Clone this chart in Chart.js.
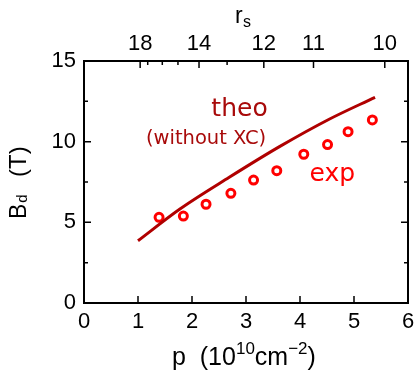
<!DOCTYPE html>
<html>
<head>
<meta charset="utf-8">
<script src="https://cdn.jsdelivr.net/npm/chart.js@4.4.0/dist/chart.umd.min.js"></script>
<style>
  html, body { margin: 0; padding: 0; background: #fff; }
  #wrap { width: 415px; height: 374px; }
</style>
</head>
<body>
<div id="wrap"><canvas id="chart" width="415" height="374"></canvas></div>
<script>
// theory curve (without XC)
const theoP = [1.00, 1.77, 2.69, 3.62, 4.54, 5.39];
const theoB = [3.86, 5.81, 7.79, 9.69, 11.39, 12.75];

// experimental points
const expP = [1.39, 1.84, 2.26, 2.72, 3.14, 3.57, 4.07, 4.51, 4.89, 5.34];
const expB = [5.31, 5.39, 6.12, 6.80, 7.62, 8.20, 9.22, 9.82, 10.62, 11.35];

// top axis: r_s values and where they fall on p
const rsLabels = ['18', '14', '12', '11', '10'];
const rsPos = [1.04, 2.13, 3.33, 4.25, 5.57];
const rsMinorPos = [1.18, 1.45, 1.74, 2.65];

const yMajor = [0, 5, 10, 15];
const yMinor = [2.5, 7.5, 12.5];
const xTicks = [0, 1, 2, 3, 4, 5, 6];

const FONT = "'Liberation Sans', Arial, sans-serif";
const LBL_FONT = "'DejaVu Sans', sans-serif";
const DARK = '#a80a0a';
const RED = '#ff0000';

const frame = {
  id: 'frame',
  afterDraw(chart) {
    const { ctx, chartArea: a, scales } = chart;
    const x = scales.x, y = scales.y, x2 = scales.x2;
    ctx.save();
    ctx.strokeStyle = '#000';
    ctx.lineWidth = 2;
    ctx.strokeRect(a.left, a.top, a.right - a.left, a.bottom - a.top);

    ctx.lineWidth = 1.5;
    ctx.beginPath();
    xTicks.forEach(v => {
      const px = x.getPixelForValue(v);
      ctx.moveTo(px, a.bottom); ctx.lineTo(px, a.bottom - 7);
    });
    yMajor.forEach(v => {
      const py = y.getPixelForValue(v);
      ctx.moveTo(a.left, py); ctx.lineTo(a.left + 7, py);
      ctx.moveTo(a.right, py); ctx.lineTo(a.right - 7, py);
    });
    yMinor.forEach(v => {
      const py = y.getPixelForValue(v);
      ctx.moveTo(a.left, py); ctx.lineTo(a.left + 4, py);
      ctx.moveTo(a.right, py); ctx.lineTo(a.right - 4, py);
    });
    rsPos.forEach(v => {
      const px = x2.getPixelForValue(v);
      ctx.moveTo(px, a.top); ctx.lineTo(px, a.top + 7);
    });
    rsMinorPos.forEach(v => {
      const px = x2.getPixelForValue(v);
      ctx.moveTo(px, a.top); ctx.lineTo(px, a.top + 4);
    });
    ctx.stroke();

    // axis titles
    ctx.fillStyle = '#000';
    ctx.textBaseline = 'alphabetic';
    ctx.textAlign = 'left';
    ctx.font = '23px ' + FONT;
    ctx.fillText('r', 235, 23);
    ctx.font = '16px ' + FONT;
    ctx.fillText('s', 243, 27);

    // x title: p  (10^10 cm^-2)
    let cx = 172;
    const base = 365;
    const part = (txt, size, dy) => {
      ctx.font = size + 'px ' + FONT;
      ctx.fillText(txt, cx, base + dy);
      cx += ctx.measureText(txt).width;
    };
    part('p  (10', 25, 0);
    part('10', 17, -11);
    part('cm', 25, 0);
    part('\u22122', 17, -11);
    part(')', 25, 0);

    // y title rotated
    ctx.save();
    ctx.translate(26, 219);
    ctx.rotate(-Math.PI / 2);
    ctx.font = '23px ' + FONT;
    ctx.fillText('B', 0, 0);
    let w = ctx.measureText('B').width;
    ctx.font = '15px ' + FONT;
    ctx.fillText('d', w + 1, 1);
    ctx.font = '24px ' + FONT;
    ctx.fillText('(T)', 42, 0);
    ctx.restore();

    // in-plot labels
    ctx.textAlign = 'center';
    ctx.textBaseline = 'middle';
    ctx.fillStyle = DARK;
    ctx.font = '25px ' + LBL_FONT;
    ctx.fillText('theo', x.getPixelForValue(2.88), y.getPixelForValue(12.0));
    ctx.font = '19.5px ' + LBL_FONT;
    ctx.fillText('(without XC)', x.getPixelForValue(2.26), y.getPixelForValue(10.15));
    ctx.fillStyle = RED;
    ctx.font = '25px ' + LBL_FONT;
    ctx.fillText('exp', x.getPixelForValue(4.6), y.getPixelForValue(7.95));
    ctx.restore();
  }
};

const tickFont = { size: 22, family: FONT };

new Chart(document.getElementById('chart'), {
  type: 'scatter',
  data: {
    datasets: [
      {
        label: 'theo',
        data: theoP.map((p, i) => ({ x: p, y: theoB[i] })),
        showLine: true,
        borderColor: '#b00000',
        borderWidth: 3,
        pointRadius: 0,
        cubicInterpolationMode: 'monotone',
        fill: false
      },
      {
        label: 'exp',
        data: expP.map((p, i) => ({ x: p, y: expB[i] })),
        showLine: false,
        pointStyle: 'circle',
        pointRadius: 4,
        borderWidth: 3,
        borderColor: RED,
        backgroundColor: '#fff'
      }
    ]
  },
  options: {
    responsive: false,
    animation: false,
    layout: { padding: { left: 0, right: 6, top: 0, bottom: 0 } },
    plugins: { legend: { display: false }, tooltip: { enabled: false } },
    scales: {
      x: {
        type: 'linear', position: 'bottom', min: 0, max: 6,
        grid: { display: false, drawTicks: false },
        border: { display: false },
        ticks: { stepSize: 1, color: '#000', font: tickFont, padding: 6, maxRotation: 0 },
        afterFit: s => { s.height = 71; s.paddingLeft = 0; s.paddingRight = 0; }
      },
      x2: {
        type: 'linear', position: 'top', min: 0, max: 6,
        grid: { display: false, drawTicks: false },
        border: { display: false },
        afterBuildTicks: s => { s.ticks = rsPos.map(v => ({ value: v })); },
        ticks: {
          autoSkip: false, maxRotation: 0, color: '#000', padding: 4,
          font: tickFont,
          callback: (v, i) => rsLabels[i]
        },
        afterFit: s => { s.height = 61; s.paddingLeft = 0; s.paddingRight = 0; }
      },
      y: {
        type: 'linear', min: 0, max: 15,
        grid: { display: false, drawTicks: false },
        border: { display: false },
        ticks: { stepSize: 5, color: '#000', font: tickFont, padding: 8 },
        afterFit: s => { s.width = 84; s.paddingTop = 0; s.paddingBottom = 0; }
      }
    }
  },
  plugins: [frame]
});
</script>
</body>
</html>
